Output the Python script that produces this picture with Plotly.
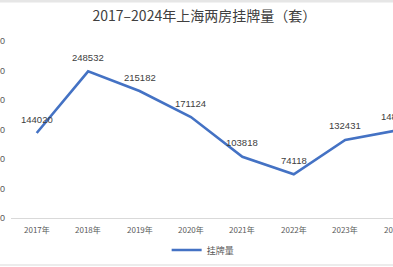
import plotly.graph_objects as go

# ---- data ----
years = ["2017年", "2018年", "2019年", "2020年", "2021年", "2022年", "2023年", "2024年"]
listings = [144020, 248532, 215182, 171124, 103818, 74118, 132431, 148500]
series_name = "挂牌量"
title_text = "2017–2024年上海两房挂牌量（套）"

# ---- layout constants ----
W, H = 393, 267
M_L, M_R, M_T, M_B = 11, 0, 41, 49
PLOT_H = H - M_T - M_B
X_RANGE = [-0.5, 6.93]
Y_RANGE = [0, 300000]


def py(px):
    return (H - M_B - px) / PLOT_H


def x_paper(i):
    # category index -> paper fraction via the x axis range
    return (i - X_RANGE[0]) / (X_RANGE[1] - X_RANGE[0])


fig = go.Figure()

fig.add_trace(go.Scatter(
    x=years, y=listings, name=series_name,
    mode="lines",
    line=dict(color="#4472C4", width=2.6),
    cliponaxis=False,
    hoverinfo="skip",
))

annotations = []
for i, (cat, v) in enumerate(zip(years, listings)):
    # data label above each point
    annotations.append(dict(
        x=x_paper(i), xref="paper", y=v, yref="y",
        text=str(v), showarrow=False, xanchor="center", yanchor="middle",
        yshift=14,
        font=dict(family="Liberation Sans, Arial, sans-serif", size=9.5, color="#404040"),
    ))
    # category label under the axis
    annotations.append(dict(
        x=x_paper(i), xref="paper", y=Y_RANGE[0], yref="y",
        text=cat, showarrow=False, xanchor="center", yanchor="middle",
        yshift=-11,
        font=dict(family="Noto Sans CJK SC, sans-serif", size=8, color="#595959"),
    ))

fig.update_layout(
    width=W, height=H,
    margin=dict(l=M_L, r=M_R, t=M_T, b=M_B, pad=0),
    paper_bgcolor="white", plot_bgcolor="white",
    title=dict(
        text=title_text, x=0.52, xref="container", xanchor="center",
        y=1 - 16 / H, yref="container", yanchor="middle",
        font=dict(family="Noto Sans CJK SC, sans-serif", size=14, color="#404040"),
    ),
    showlegend=True,
    legend=dict(
        orientation="h", x=0.503, xanchor="center", y=py(250), yanchor="middle",
        font=dict(family="Noto Sans CJK SC, sans-serif", size=9, color="#595959"),
        bgcolor="rgba(0,0,0,0)",
    ),
    xaxis=dict(
        type="category", range=X_RANGE, showgrid=False, zeroline=False,
        showline=True, linecolor="#d9d9d9", linewidth=1,
        showticklabels=False, ticks="", fixedrange=True,
    ),
    yaxis=dict(
        range=Y_RANGE, dtick=50000, tickformat="d",
        showgrid=False, zeroline=False, showline=False, ticks="",
        ticklabelstandoff=5,
        tickfont=dict(family="Liberation Sans, Arial, sans-serif", size=9, color="#595959"),
        automargin=False, fixedrange=True,
    ),
    annotations=annotations,
    shapes=[
        dict(type="rect", xref="paper", yref="paper", x0=-0.1, x1=1.1,
             y0=py(2.5), y1=py(-1), fillcolor="#e6e6e6", line=dict(width=0), layer="above"),
        dict(type="line", xref="paper", yref="paper", x0=-0.1, x1=1.1,
             y0=py(265), y1=py(265), line=dict(color="#d9d9d9", width=1)),
    ],
)

fig.write_html("out.html")
